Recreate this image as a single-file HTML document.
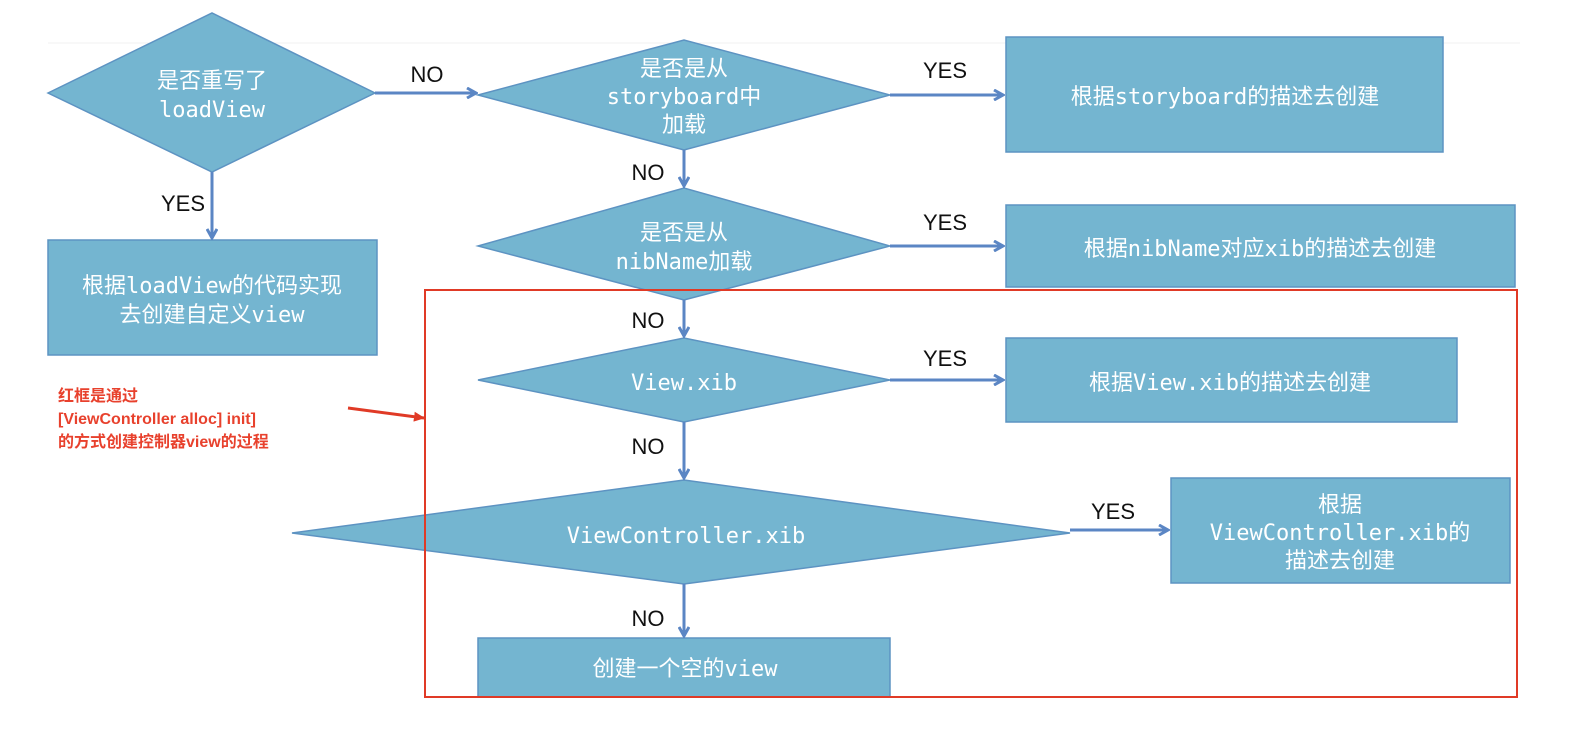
<!DOCTYPE html>
<html><head><meta charset="utf-8"><style>
body{margin:0;background:#fff;}
svg{display:block}
.t{font-family:"DejaVu Sans Mono","Noto Sans CJK SC",monospace;font-size:22px;fill:#fff;text-anchor:middle}
.l{font-family:"Liberation Sans",sans-serif;font-size:22px;fill:#111;text-anchor:middle}
.r{font-family:"Liberation Sans","Noto Sans CJK SC",sans-serif;font-size:16px;fill:#e8412d;font-weight:bold}
</style></head><body>
<svg width="1572" height="732" viewBox="0 0 1572 732">
<defs>
<marker id="a" markerWidth="12" markerHeight="12" refX="10" refY="6" orient="auto" markerUnits="userSpaceOnUse">
<path d="M1,1 L10,6 L1,11" fill="none" stroke="#5b86c4" stroke-width="3"/></marker>
<marker id="ra" markerWidth="12" markerHeight="10" refX="10" refY="5" orient="auto" markerUnits="userSpaceOnUse">
<path d="M0,0 L11,5 L0,10 z" fill="#e03a26"/></marker>
</defs>
<line x1="48" y1="43" x2="1520" y2="43" stroke="#f0f0f0" stroke-width="1"/>
<g fill="#74b5d0" stroke="#5d93c2" stroke-width="1.5">
<polygon points="48,93 212,13 375,93 212,172"/>
<polygon points="478,95 684,40 890,95 684,150"/>
<polygon points="478,246 684,188 890,246 684,300"/>
<polygon points="478,380 684,338 890,380 684,422"/>
<polygon points="292,533 684,480 1070,533 684,584"/>
<rect x="1006" y="37" width="437" height="115"/>
<rect x="1006" y="205" width="509" height="82"/>
<rect x="1006" y="338" width="451" height="84"/>
<rect x="1171" y="478" width="339" height="105"/>
<rect x="478" y="638" width="412" height="59"/>
<rect x="48" y="240" width="329" height="115"/>
</g>
<rect x="425" y="290" width="1092" height="407" fill="none" stroke="#e03a26" stroke-width="2"/>
<g stroke="#5b86c4" stroke-width="3" marker-end="url(#a)">
<line x1="375" y1="93" x2="476" y2="93"/>
<line x1="890" y1="95" x2="1003" y2="95"/>
<line x1="684" y1="150" x2="684" y2="186"/>
<line x1="890" y1="246" x2="1003" y2="246"/>
<line x1="684" y1="300" x2="684" y2="336"/>
<line x1="890" y1="380" x2="1003" y2="380"/>
<line x1="684" y1="422" x2="684" y2="478"/>
<line x1="1070" y1="530" x2="1168" y2="530"/>
<line x1="684" y1="584" x2="684" y2="636"/>
<line x1="212" y1="172" x2="212" y2="238"/>
</g>
<line x1="348" y1="408" x2="424" y2="418" stroke="#e03a26" stroke-width="3" marker-end="url(#ra)"/>
<g class="l">
<text x="427" y="82">NO</text><text x="945" y="78">YES</text>
<text x="648" y="180">NO</text><text x="945" y="230">YES</text>
<text x="648" y="328">NO</text><text x="945" y="366">YES</text>
<text x="648" y="454">NO</text><text x="1113" y="519">YES</text>
<text x="648" y="626">NO</text><text x="183" y="211">YES</text>
</g>
<g class="t">
<text x="212" y="88">是否重写了</text><text x="212" y="117">loadView</text>
<text x="684" y="76">是否是从</text><text x="684" y="104">storyboard中</text><text x="684" y="132">加载</text>
<text x="1225" y="104">根据storyboard的描述去创建</text>
<text x="684" y="240">是否是从</text><text x="684" y="269">nibName加载</text>
<text x="1260" y="256">根据nibName对应xib的描述去创建</text>
<text x="684" y="390">View.xib</text>
<text x="1230" y="390">根据View.xib的描述去创建</text>
<text x="686" y="543">ViewController.xib</text>
<text x="1340" y="512">根据</text><text x="1340" y="540">ViewController.xib的</text><text x="1340" y="568">描述去创建</text>
<text x="685" y="676">创建一个空的view</text>
<text x="212" y="293">根据loadView的代码实现</text><text x="212" y="322">去创建自定义view</text>
</g>
<text class="r" x="58" y="401">红框是通过</text>
<text class="r" x="58" y="424">[ViewController alloc] init]</text>
<text class="r" x="58" y="447">的方式创建控制器view的过程</text>
</svg>
</body></html>
